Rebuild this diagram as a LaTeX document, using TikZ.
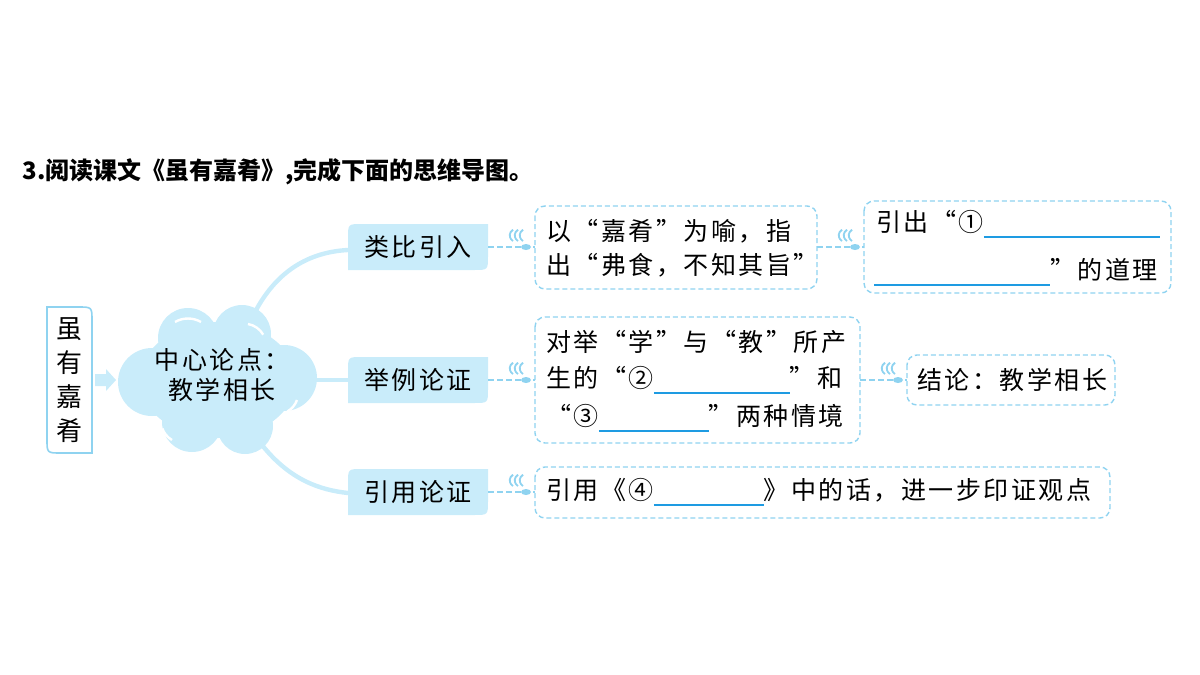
\documentclass[tikz,border=0pt]{standalone}
\usepackage{fontspec}
\setmainfont{Noto Sans CJK SC}
\definecolor{lb}{HTML}{C9ECFA}
\definecolor{lbd}{HTML}{8FD3F0}
\definecolor{blank}{HTML}{1E9BE2}
\newcommand{\bl}[1]{\textcolor{blank}{\rule[-3pt]{#1pt}{0.8pt}}}
\begin{document}
\begin{tikzpicture}[x=0.5pt,y=-0.5pt,
  txt/.style={anchor=west,inner sep=0pt,font=\fontsize{12.5pt}{14pt}\selectfont\addfontfeature{LetterSpace=10}},
  dbox/.style={draw=lbd,dashed,dash pattern=on 2.5pt off 1.5pt,rounded corners=5pt,line width=0.7pt},
  conn/.style={draw=lbd,dash pattern=on 3pt off 1.5pt,line width=0.7pt}]
\useasboundingbox (0,0) rectangle (1200,675);
\node[anchor=west,inner sep=0pt,font=\fontsize{12pt}{14pt}\selectfont\bfseries] (title) at (22,172) {3.阅读课文《虽有嘉肴》,完成下面的思维导图。};
% left box: rounded top-right and bottom-left
\draw[lbd,line width=0.8pt,fill=white] (47,307) -- (78,307) .. controls (92,307) .. (92,321) -- (92,453) -- (61,453) .. controls (47,453) .. (47,439) -- cycle;
\node[inner sep=0pt,align=center,font=\fontsize{13pt}{17pt}\selectfont] (root) at (69,380) {虽\\有\\嘉\\肴};
% cloud
\fill[lb] (218,380) ellipse (78 and 58);
\fill[lb] (152,382) circle (34);
\fill[lb] (188,338) circle (30);
\fill[lb] (242,334) circle (29);
\fill[lb] (284,378) circle (33);
\fill[lb] (192,422) circle (30);
\fill[lb] (245,426) circle (28);
\draw[white,line width=1.2pt] (175,322) arc(240:300:26);
\draw[white,line width=1.2pt] (248,324) arc(280:330:22);
\draw[white,line width=1.2pt] (297,400) arc(20:60:22);
\draw[white,line width=1.2pt] (172,440) arc(120:160:22);
\node[inner sep=0pt,align=center,font=\fontsize{12.5pt}{15pt}\selectfont\addfontfeature{LetterSpace=10}] (cloud) at (222,375) {中心论点：\\教学相长};
\fill[lb] (95,374) -- (106,374) -- (106,369) -- (116,380) -- (106,391) -- (106,386) -- (95,386) -- cycle;
% branches: rounded top-left and bottom-right
\foreach \n/\y/\t in {b1/247/类比引入,b2/380/举例论证,b3/492/引用论证}{
  \fill[lb] (348,\y+23) -- (348,\y-9) .. controls (348,\y-23) .. (362,\y-23) -- (488,\y-23) -- (488,\y+9) .. controls (488,\y+23) .. (474,\y+23) -- cycle;
  \node[inner sep=0pt,font=\fontsize{12.5pt}{14pt}\selectfont\addfontfeature{LetterSpace=10}] (\n) at (418,\y) {\t};
}
\draw[lb,line width=2.2pt] (252,318) .. controls (275,270) and (310,252) .. (348,250);
\draw[lb,line width=2.2pt] (312,380) -- (348,380);
\draw[lb,line width=2.2pt] (262,445) .. controls (290,480) and (320,490) .. (348,493);
% boxes
\draw[dbox] (535,206) rectangle (817,289);
\node[txt] (t1a) at (546,231) {以“嘉肴”为喻，指};
\node[txt] (t1b) at (546,265) {出“弗食，不知其旨”};
\draw[dbox] (864,201) rectangle (1171,293);
\node[txt] (tAa) at (876,224) {引出“①\bl{88}};
\node[txt] (tAb) at (874,272) {\bl{88}”的道理};
\draw[dbox] (535,317) rectangle (860,443);
\node[txt] (t2a) at (546,342) {对举“学”与“教”所产};
\node[txt] (t2b) at (546,380) {生的“②\bl{68}”和};
\node[txt] (t2c) at (546,418) {“③\bl{55}”两种情境};
\draw[dbox] (907,355) rectangle (1115,405);
\node[txt] (tB) at (917,380) {结论：教学相长};
\draw[dbox] (535,467) rectangle (1110,518);
\node[txt] (t3) at (546,492) {引用《④\bl{55}》中的话，进一步印证观点};
% connectors
\foreach \a/\b/\y in {488/535/247,817/864/247,488/535/380,860/907/380,488/535/492}{
  \draw[conn] (\a,\y) -- (\b,\y);
  \foreach \dx in {0,5,10}{\draw[lbd,line width=0.9pt] (\b-22+\dx,\y-6) arc(120:240:6.5);}
  \fill[lbd] (\b-9,\y) ellipse (5 and 3);
}
\end{tikzpicture}
\end{document}
